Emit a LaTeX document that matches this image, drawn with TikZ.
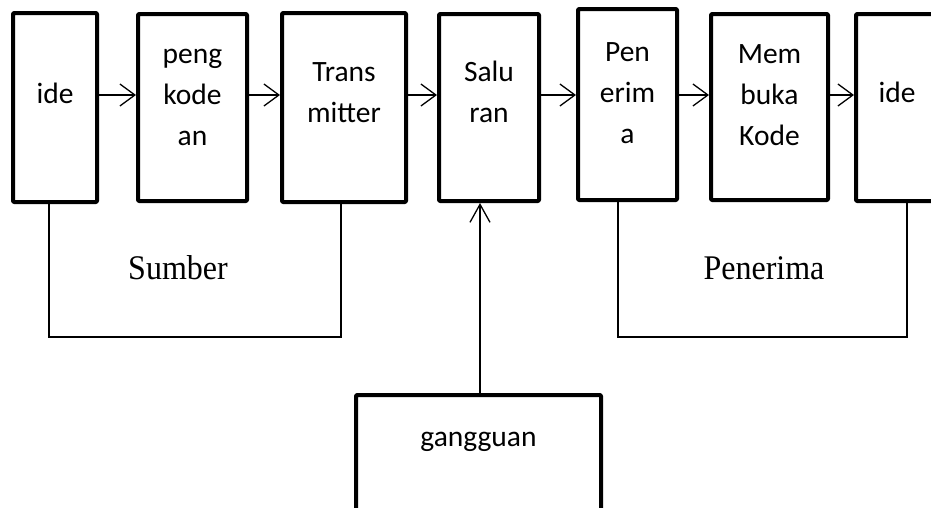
\documentclass[tikz,border=0pt]{standalone}
\usepackage{fontspec}
\setmainfont{Liberation Serif}
\newfontfamily\carlito{Carlito}
\usetikzlibrary{arrows.meta}
\begin{document}
\begin{tikzpicture}[x=1pt,y=-1pt,
  boxsty/.style={draw, line width=4pt, line join=round, rounded corners=1pt, inner sep=0pt},
  lbl/.style={font=\carlito\fontsize{29.5}{41}\selectfont, align=center, inner sep=0pt},
  grp/.style={font=\fontsize{32}{38}\selectfont, inner sep=0pt, anchor=base, yscale=1.08},
  conn/.style={line width=1.3pt},
  arr/.style={line width=1.3pt, -{Straight Barb[length=15pt,width=22pt,line width=1.3pt]}},
  uparr/.style={line width=1.3pt, -{Straight Barb[length=18pt,width=20pt,line width=1.3pt]}}]
\useasboundingbox (0,0) rectangle (931,507);
\clip (0,0) rectangle (931,507);
\fill[white] (0,0) rectangle (931,507);
% boxes
\node[boxsty, minimum width=84pt,  minimum height=189pt] (b1) at (55,107.5) {};
\node[boxsty, minimum width=109pt, minimum height=187pt] (b2) at (192.5,107.5) {};
\node[boxsty, minimum width=124pt, minimum height=189pt] (b3) at (344,107.5) {};
\node[boxsty, minimum width=100pt, minimum height=187pt] (b4) at (489,107.5) {};
\node[boxsty, minimum width=99pt,  minimum height=191pt] (b5) at (627.5,104.5) {};
\node[boxsty, minimum width=117pt, minimum height=186pt] (b6) at (769.5,107) {};
\node[boxsty, minimum width=82pt,  minimum height=187pt] (b7) at (897,107.5) {};
\node[boxsty, minimum width=245pt, minimum height=160pt] (gg) at (478.5,475) {};
% texts
\node[lbl] (t1) at (55,93) {ide};
\node[lbl] (t2) at (192.5,97) {peng\\kode\\an};
\node[lbl] (t3) at (344,93) {Trans\\mitter};
\node[lbl] (t4) at (489,92) {Salu\\ran};
\node[lbl] (t5) at (627.5,93) {Pen\\erim\\a};
\node[lbl] (t6) at (769.5,95) {Mem\\buka\\Kode};
\node[lbl] (t7) at (897,92) {ide};
\node[lbl] (tg) at (478.5,442) {gangguan};
\node[grp] (sumber) at (178,279) {Sumber};
\node[grp] (penerima) at (764,279) {Penerima};
% arrows along the chain
\coordinate (ay) at (0,95);
\draw[arr] (b1.east |- ay) -- (b2.west |- ay);
\draw[arr] (b2.east |- ay) -- (b3.west |- ay);
\draw[arr] (b3.east |- ay) -- (b4.west |- ay);
\draw[arr] (b4.east |- ay) -- (b5.west |- ay);
\draw[arr] (b5.east |- ay) -- (b6.west |- ay);
\draw[arr] (b6.east |- ay) -- (b7.west |- ay);
% noise arrow
\coordinate (ax) at (480,0);
\draw[uparr] (gg.north -| ax) -- (b4.south -| ax);
% brackets
\coordinate (by) at (0,337);
\draw[conn] ([xshift=-6pt]b1.south) -- ([xshift=-6pt]b1.south |- by) -| ([xshift=-3pt]b3.south);
\draw[conn] ([xshift=-9.5pt]b5.south) -- ([xshift=-9.5pt]b5.south |- by) -| ([xshift=10pt]b7.south);
\end{tikzpicture}
\end{document}
